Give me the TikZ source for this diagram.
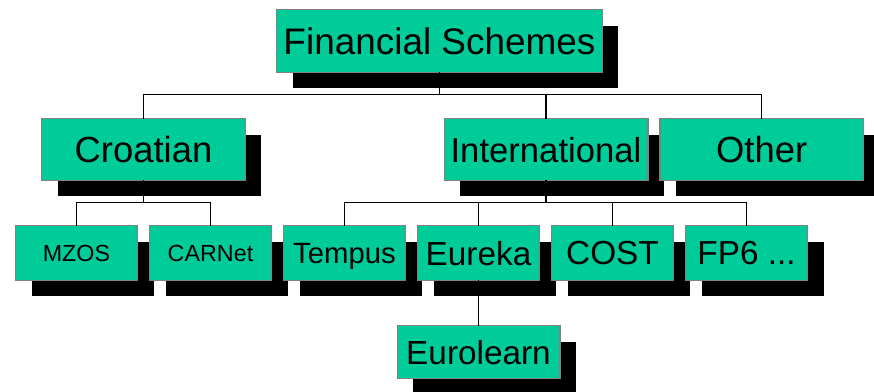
\documentclass[tikz,border=0pt]{standalone}
\usepackage{fontspec}
\setmainfont{Liberation Sans}
\usetikzlibrary{positioning,shadows}
\definecolor{schemegreen}{RGB}{0,204,153}

\begin{document}
\begin{tikzpicture}[x=0.75pt,y=-0.75pt,
	box/.style={draw=gray, line width=1pt, fill=schemegreen, inner sep=0pt, outer sep=0pt, text depth=0pt,
		general shadow={fill=black, shadow xshift=12pt, shadow yshift=-12pt}},
	rootbox/.style={box, minimum width=244.25pt, minimum height=47pt, font=\fontsize{27.7}{32}\selectfont},
	groupbox/.style={box, minimum width=152.75pt, minimum height=46.25pt, font=\fontsize{27.3}{32}\selectfont},
	leafbox/.style={box, minimum width=91.5pt, minimum height=41pt, font=\fontsize{25}{29}\selectfont},
	smallbox/.style={leafbox, font=\fontsize{17.5}{21}\selectfont},
	link/.style={line width=1pt}]
		\useasboundingbox (0,0) rectangle (874,392);
		% Top
		\node[rootbox] (Schemes) at (439.5,41) {Financial Schemes} ;
		% Groups
		\node[groupbox] (Croatian) at (143.5,149.5) {Croatian} ;
		\node[groupbox, font=\fontsize{26}{30}\selectfont] (International) at (546,149.5) {International} ;
		\node[groupbox, right=9pt of International] (Other) {Other} ;
		% Schemes
		\node[smallbox] (MZOS) at (76.5,253) {MZOS} ;
		\node[smallbox, right=9pt of MZOS] (CARNet) {CARNet} ;
		\node[leafbox, font=\fontsize{22}{26}\selectfont, right=9pt of CARNet] (Tempus) {Tempus} ;
		\node[leafbox, right=9pt of Tempus] (Eureka) {Eureka} ;
		\node[leafbox, right=9pt of Eureka] (COST) {COST} ;
		\node[leafbox, right=9pt of COST] (FP) {FP6 ...} ;
		\node[leafbox, minimum width=122pt, minimum height=39.5pt, below=34pt of Eureka] (Eurolearn) {Eurolearn} ;
		% Connectors
		\draw[link] (Schemes.south) -- ++(0,22) -| (Croatian.north) ;
		\draw[link] (Schemes.south) -- ++(0,22) -| (International.north) ;
		\draw[link] (Schemes.south) -- ++(0,22) -| (Other.north) ;
		\draw[link] (Croatian.south) -- ++(0,22) -| (MZOS.north) ;
		\draw[link] (Croatian.south) -- ++(0,22) -| (CARNet.north) ;
		\draw[link] (International.south) -- ++(0,22) -| (Tempus.north) ;
		\draw[link] (International.south) -- ++(0,22) -| (Eureka.north) ;
		\draw[link] (International.south) -- ++(0,22) -| (COST.north) ;
		\draw[link] (International.south) -- ++(0,22) -| (FP.north) ;
		\draw[link] (Eureka.south) -- (Eurolearn.north) ;
	\end{tikzpicture}
\end{document}
